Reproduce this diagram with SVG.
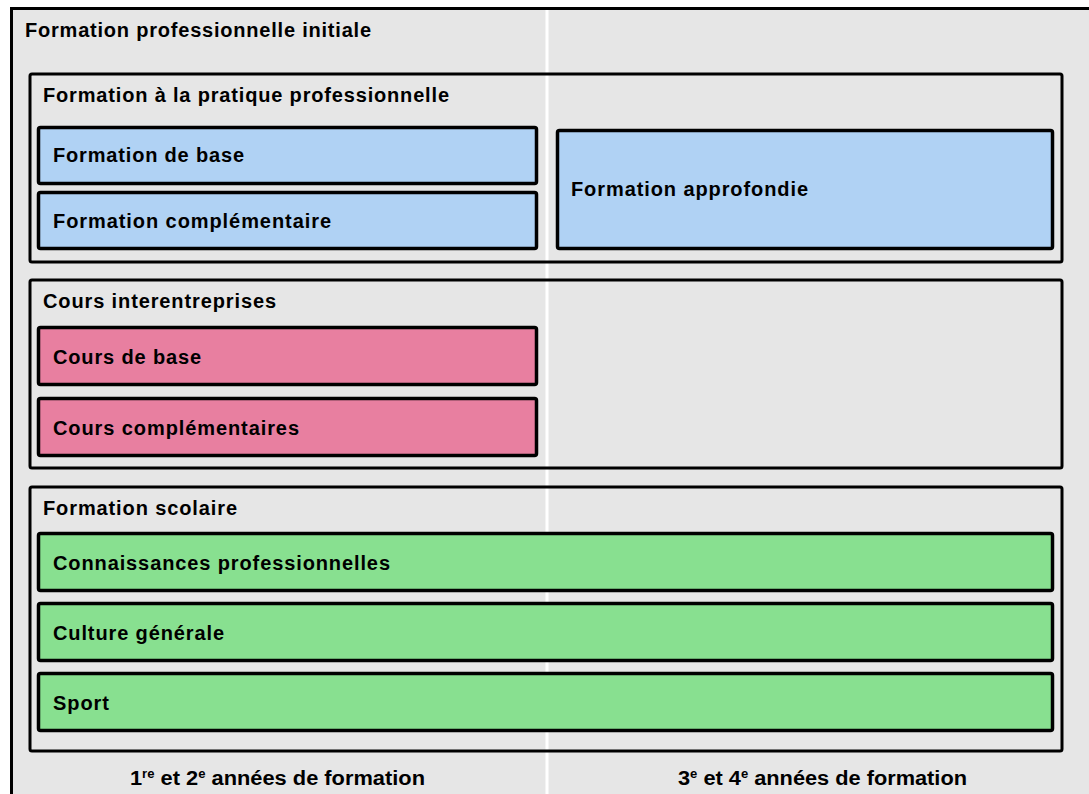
<svg xmlns="http://www.w3.org/2000/svg" width="1089" height="794" viewBox="0 0 1089 794">
<style>
.frame{fill:#e6e6e6;stroke:#000;stroke-width:3}
.sec{fill:none;stroke:#000;stroke-width:3}
.box{stroke:#000;stroke-width:3.5}
.blue{fill:#b0d2f4}
.pink{fill:#e87fa0}
.green{fill:#88e090}
text{font-family:"Liberation Sans",Arial,sans-serif;font-weight:bold;font-size:20px;fill:#000}
.foot{font-size:20px}
.sup{font-size:12px}
</style>
<rect x="0" y="0" width="1089" height="794" fill="#fff"/>
<rect class="frame" x="11.5" y="8.5" width="1090" height="800"/>
<line x1="547" y1="10" x2="547" y2="794" stroke="#fff" stroke-width="3"/>
<g id="title"><text x="25" y="37" textLength="346" lengthAdjust="spacing">Formation professionnelle initiale</text></g>
<g id="pratique">
<rect class="sec" x="30" y="74" width="1032" height="188" rx="2"/>
<text x="43" y="102" textLength="406" lengthAdjust="spacing">Formation à la pratique professionnelle</text>
</g>
<g id="base"><rect class="box blue" x="38.5" y="127.5" width="498" height="56" rx="2"/><text x="53" y="162" textLength="191" lengthAdjust="spacing">Formation de base</text></g>
<g id="compl"><rect class="box blue" x="38.5" y="192.5" width="498" height="56" rx="2"/><text x="53" y="228" textLength="278" lengthAdjust="spacing">Formation complémentaire</text></g>
<g id="approf"><rect class="box blue" x="557.5" y="130.5" width="495" height="118" rx="2"/><text x="571" y="196" textLength="237" lengthAdjust="spacing">Formation approfondie</text></g>
<g id="cie">
<rect class="sec" x="30" y="280" width="1032" height="188" rx="2"/>
<text x="43" y="308" textLength="233" lengthAdjust="spacing">Cours interentreprises</text>
</g>
<g id="coursbase"><rect class="box pink" x="38.5" y="327.5" width="498" height="57" rx="2"/><text x="53" y="364" textLength="148" lengthAdjust="spacing">Cours de base</text></g>
<g id="courscompl"><rect class="box pink" x="38.5" y="398.5" width="498" height="57" rx="2"/><text x="53" y="435" textLength="246" lengthAdjust="spacing">Cours complémentaires</text></g>
<g id="scolaire">
<rect class="sec" x="30" y="487" width="1032" height="264" rx="2"/>
<text x="43" y="515" textLength="194" lengthAdjust="spacing">Formation scolaire</text>
</g>
<g id="connaissances"><rect class="box green" x="38.5" y="533.5" width="1014" height="57" rx="2"/><text x="53" y="570" textLength="337" lengthAdjust="spacing">Connaissances professionnelles</text></g>
<g id="culture"><rect class="box green" x="38.5" y="603.5" width="1014" height="57" rx="2"/><text x="53" y="640" textLength="171" lengthAdjust="spacing">Culture générale</text></g>
<g id="sport"><rect class="box green" x="38.5" y="673.5" width="1014" height="57" rx="2"/><text x="53" y="710" textLength="56" lengthAdjust="spacing">Sport</text></g>
<g id="footer-left"><text class="foot" x="130" y="785" textLength="295" lengthAdjust="spacingAndGlyphs">1<tspan class="sup" dy="-7">re</tspan><tspan dy="7"> et 2</tspan><tspan class="sup" dy="-7">e</tspan><tspan dy="7"> années de formation</tspan></text></g>
<g id="footer-right"><text class="foot" x="678" y="785" textLength="289" lengthAdjust="spacingAndGlyphs">3<tspan class="sup" dy="-7">e</tspan><tspan dy="7"> et 4</tspan><tspan class="sup" dy="-7">e</tspan><tspan dy="7"> années de formation</tspan></text></g>
<g id="connectors"></g>
</svg>
